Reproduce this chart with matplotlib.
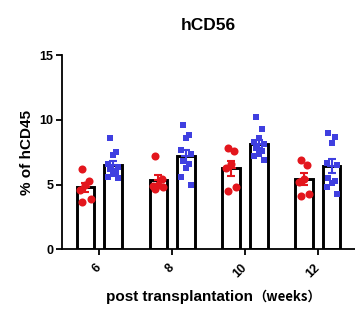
import matplotlib.pyplot as plt
import matplotlib.transforms as mtransforms
import numpy as np

weeks = ["6", "8", "10", "12"]

red_values = [
    [6.2, 5.3, 5.0, 4.6, 3.9, 3.7],
    [7.2, 5.4, 5.0, 4.9, 4.8, 4.7],
    [7.8, 7.6, 6.6, 6.3, 4.8, 4.5],
    [6.9, 6.5, 5.4, 5.2, 4.3, 4.1],
]
blue_values = [
    [8.6, 7.5, 7.3, 6.6, 6.4, 6.2, 6.0, 5.8, 5.6, 5.5],
    [9.6, 8.8, 8.6, 7.7, 7.4, 6.8, 6.6, 6.3, 5.6, 5.0],
    [10.2, 9.3, 8.6, 8.3, 8.1, 7.8, 7.6, 7.4, 7.2, 6.9],
    [9.0, 8.7, 8.2, 6.7, 6.5, 5.5, 5.3, 5.1, 4.8, 4.3],
]

RED = "#e3161d"
BLUE = "#3f3fe0"
FONT = ["Liberation Sans", "Noto Sans CJK SC", "DejaVu Sans"]
plt.rcParams["font.family"] = FONT

fig = plt.figure(figsize=(3.55, 3.23), dpi=100)
ax = fig.add_axes([0.1746, 0.2276, 0.8254, 0.6021])

x = np.arange(len(weeks))
offset = 0.19
width = 0.24


def draw_group(values, pos, color, marker, ms):
    for xi, vals in zip(pos, values):
        vals = np.array(vals)
        mean = vals.mean()
        sem = vals.std(ddof=1) / np.sqrt(len(vals))
        ax.bar(xi, mean, width=width, color="white", edgecolor="black",
               linewidth=2.1, zorder=1)
        n = len(vals)
        jitter = np.tile([-0.045, 0.045, 0.0, -0.07, 0.07], n)[:n]
        ax.plot(xi + jitter, vals, linestyle="none", marker=marker,
                color=color, markersize=ms, markeredgewidth=0, zorder=2)
        ax.errorbar(xi, mean, yerr=sem, color=color, capsize=3,
                    elinewidth=1.5, capthick=1.5, zorder=3)
        ax.plot([xi - 0.05, xi + 0.05], [mean, mean], color=color,
                linewidth=1.5, zorder=3)


draw_group(red_values, x - offset, RED, "o", 5.8)
draw_group(blue_values, x + offset, BLUE, "s", 5.0)

ax.set_xlim(-0.512, 3.51)
ax.set_ylim(0, 15)
ax.set_yticks([0, 5, 10, 15])
ax.set_xticks(x)
ax.set_xticklabels(weeks, rotation=45, fontweight="bold", fontsize=9,
                   ha="right", va="center", rotation_mode="anchor")
shift = mtransforms.ScaledTranslation(2.5 / 100, 0, fig.dpi_scale_trans)
for lab in ax.get_xticklabels():
    lab.set_transform(lab.get_transform() + shift)
for lab in ax.get_yticklabels():
    lab.set_fontweight("bold")
    lab.set_fontsize(9)

ax.spines["top"].set_visible(False)
ax.spines["right"].set_visible(False)
ax.spines["left"].set_linewidth(1.3)
ax.spines["bottom"].set_linewidth(1.3)
ax.tick_params(direction="out", length=4, width=1.3, pad=2)
ax.tick_params(axis="x", pad=8)

ax.set_ylabel("% of hCD45", fontweight="bold", fontsize=11, labelpad=4)
ax.set_title("hCD56", fontweight="bold", fontsize=12.5, pad=18)

fig.text(0.712, 0.080, "post transplantation", ha="right", va="center",
         fontweight="bold", fontsize=11)
fig.text(0.712, 0.080, "（weeks）", ha="left", va="center",
         fontweight="bold", fontsize=9.5, family=["Noto Sans CJK SC", "DejaVu Sans"])

fig.savefig("out.png", dpi=100)
